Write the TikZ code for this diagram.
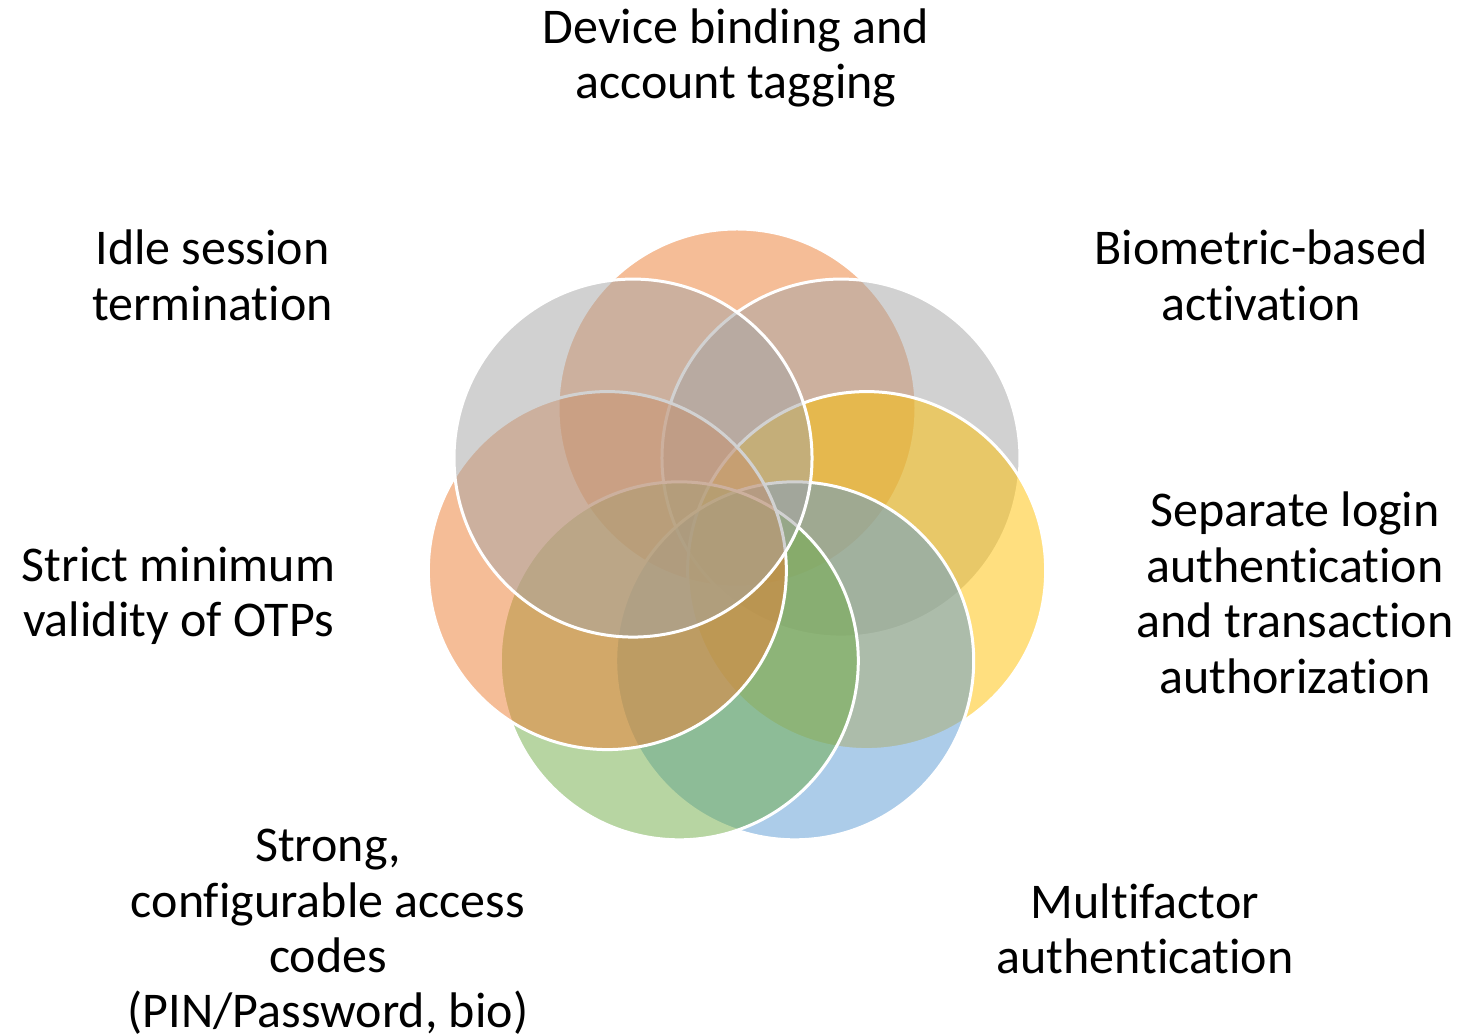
\documentclass[tikz,border=0pt]{standalone}
\usepackage{fontspec}
\setmainfont{Carlito}[Ligatures=NoCommon]
\usetikzlibrary{calc}
\definecolor{cOrange}{HTML}{ED7D31}
\definecolor{cGray}{HTML}{A5A5A5}
\definecolor{cYellow}{HTML}{FFC000}
\definecolor{cBlue}{HTML}{5B9BD5}
\definecolor{cGreen}{HTML}{70AD47}
\tikzset{
  petal/.style={circle, minimum size=358pt, inner sep=0pt, draw=white, line width=3pt, fill opacity=0.5, draw opacity=1},
  label/.style={align=center, inner sep=0pt, text=black, font=\fontsize{50pt}{55.5pt}\selectfont}
}
\begin{document}
\begin{tikzpicture}[x=1pt,y=1pt]
\useasboundingbox (0,0) rectangle (1460,1035);
\fill[white] (0,0) rectangle (1460,1035);
\coordinate (C) at (737,494);
\node[petal, fill=cOrange] (p1) at ($(C)+(90:133)$) {};
\node[petal, fill=cGray]   (p2) at ($(C)+(38.571:133)$) {};
\node[petal, fill=cYellow] (p3) at ($(C)+(-12.857:133)$) {};
\node[petal, fill=cBlue]   (p4) at ($(C)+(-64.286:133)$) {};
\node[petal, fill=cGreen]  (p5) at ($(C)+(-115.714:133)$) {};
\node[petal, fill=cOrange] (p6) at ($(C)+(-167.143:133)$) {};
\node[petal, fill=cGray]   (p7) at ($(C)+(141.429:133)$) {};
\node[label] (t1) at (736,977) {Device binding and\\account tagging};
\node[label] (t2) at (1261,759.5) {Biometric-based\\activation};
\node[label] (t3) at (1295,442) {Separate login\\authentication\\and transaction\\authorization};
\node[label] (t4) at (1145,106) {Multifactor\\authentication};
\node[label] (t5) at (328,103) {Strong,\\configurable access\\codes\\(PIN/Password, bio)};
\node[label] (t6) at (178.5,439) {Strict minimum\\validity of OTPs};
\node[label] (t7) at (212.5,759.5) {Idle session\\termination};
\end{tikzpicture}
\end{document}
